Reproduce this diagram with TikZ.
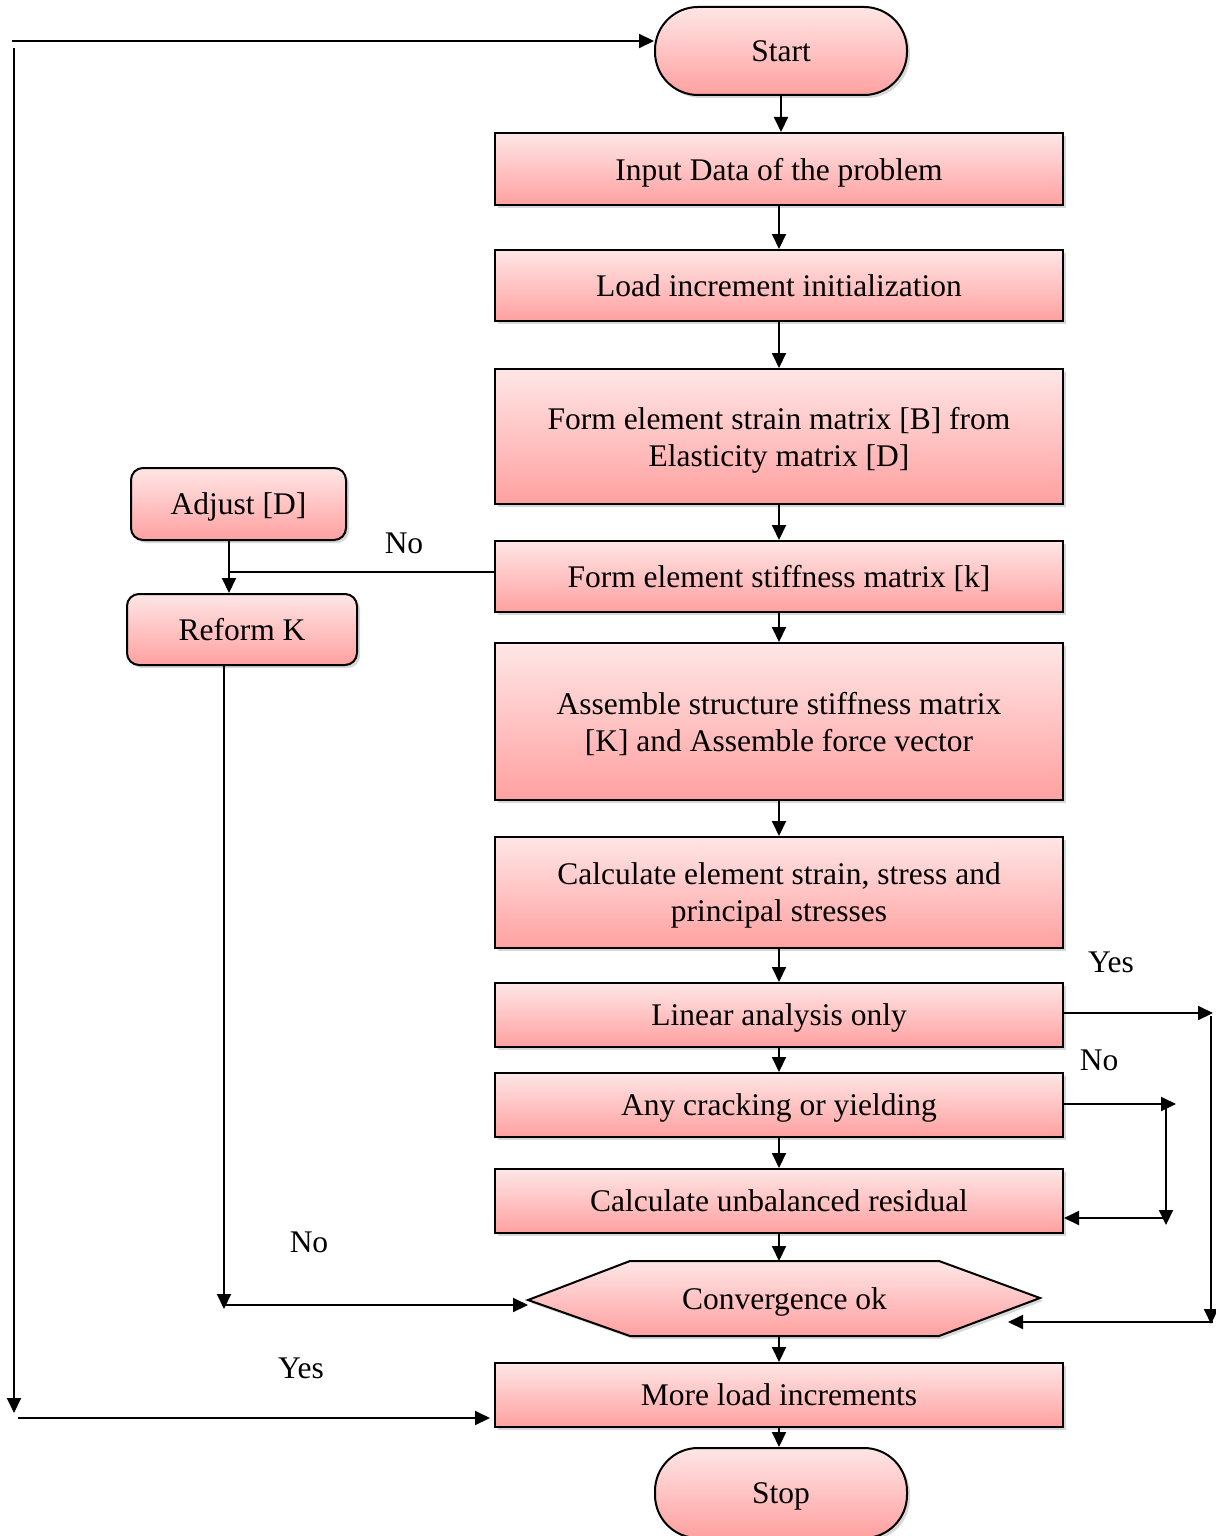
\documentclass[tikz,border=0pt]{standalone}
\usepackage{fontspec}
\setmainfont{Liberation Serif}
\usetikzlibrary{arrows.meta,shadows,calc}
\definecolor{topc}{RGB}{255,230,230}
\definecolor{botc}{RGB}{255,160,160}
\begin{document}
\begin{tikzpicture}[x=1pt,y=-1pt,line width=2pt,
  font=\fontsize{31.5}{37}\selectfont,
  shade/.style={top color=topc,bottom color=botc,
    drop shadow={opacity=0.3,shadow xshift=3pt,shadow yshift=-3pt}},
  box/.style={draw,line width=2pt,shade,minimum width=568pt,align=center,inner sep=0pt,text depth=0pt},
  rbox/.style={box,rounded corners=12pt},
  term/.style={box,rounded corners=43pt,minimum width=252pt,minimum height=88pt},
  arr/.style={-{Triangle[length=15pt,width=14pt]},line width=2pt},
  lbl/.style={inner sep=0pt}]
\path[fill=white,use as bounding box] (0,0) rectangle (1215,1536);

% main column
\node[term] (start) at (781,51) {Start};
\node[box,minimum height=72pt] (inp) at (779,169) {Input Data of the problem};
\node[box,minimum height=71pt] (load) at (779,285.5) {Load increment initialization};
\node[box,minimum height=135pt] (strain) at (779,436.5) {Form element strain matrix [B] from\\Elasticity matrix [D]};
\node[box,minimum height=71pt] (stiff) at (779,576.5) {Form element stiffness matrix [k]};
\node[box,minimum height=157pt] (asm) at (779,721.5) {Assemble structure stiffness matrix\\{}[K] and Assemble force vector};
\node[box,minimum height=111pt] (calc) at (779,892.5) {Calculate element strain, stress and\\principal stresses};
\node[box,minimum height=64pt] (lin) at (779,1015) {Linear analysis only};
\node[box,minimum height=64pt] (any) at (779,1105) {Any cracking or yielding};
\node[box,minimum height=64pt] (resid) at (779,1201) {Calculate unbalanced residual};
\node[minimum width=307pt,minimum height=73pt,inner sep=0pt] (conv) at (784.5,1298.5) {};
\coordinate (convL) at (528,1300);
\coordinate (convR) at (1040,1298);
\path[draw,line width=2pt,shade] (convL) -- (conv.north west) -- (conv.north east) -- (convR)
  -- (conv.south east) -- (conv.south west) -- cycle;
\node[text depth=0pt] at (conv.center) {Convergence ok};
\node[box,minimum height=64pt] (more) at (779,1395) {More load increments};
\node[term,minimum height=90pt] (stop) at (781,1493) {Stop};

% side boxes
\node[rbox,minimum width=215pt,minimum height=72pt] (adj) at (238.5,504) {Adjust [D]};
\node[rbox,minimum width=230pt,minimum height=71pt] (reform) at (242,629.5) {Reform K};

% main flow arrows
\draw[arr] (start.south) -- (start.south |- inp.north);
\draw[arr] (inp.south) -- (load.north);
\draw[arr] (load.south) -- (strain.north);
\draw[arr] (strain.south) -- (stiff.north);
\draw[arr] (stiff.south) -- (asm.north);
\draw[arr] (asm.south) -- (calc.north);
\draw[arr] (calc.south) -- (lin.north);
\draw[arr] (lin.south) -- (any.north);
\draw[arr] (any.south) -- (resid.north);
\draw[arr] (resid.south) -- (resid.south |- conv.north);
\draw[arr] (conv.south -| more.north) -- (more.north);
\draw[arr] (more.south) -- (more.south |- stop.north);

% left: stiffness -> reform
\coordinate (j1) at (229,572);
\draw (stiff.west |- j1) -- (j1);
\draw[arr] (adj.south -| j1) -- (reform.north -| j1);
\node[lbl] at (404,543) {No};

% reform -> convergence
\coordinate (j2) at (224,1309);
\coordinate (j3) at (222,1305);
\draw[arr] (reform.south -| j2) -- (j2);
\draw[arr] (j3) -- (convL |- j3);
\node[lbl] at (309,1242) {No};

% outer left loop
\coordinate (l1) at (12,41);
\coordinate (l2) at (14,48);
\coordinate (l3) at (14,1413);
\coordinate (l4) at (18,1418);
\draw[arr] (l1) -- (l1 -| start.west);
\draw[arr] (l2) -- (l3);
\draw[arr] (l4) -- ($(l4 -| more.west)+(-4,0)$);
\node[lbl] at (301,1368) {Yes};

% right: linear -> convergence
\coordinate (r1) at (1213,1013);
\coordinate (r2) at (1211,1016);
\coordinate (r3) at (1211,1324);
\coordinate (r4) at (1213,1322);
\coordinate (r5) at (1008,1322);
\draw[arr] (lin.east |- r1) -- (r1);
\draw[arr] (r2) -- (r3);
\draw[arr] (r4) -- (r5);
\node[lbl] at (1111,962) {Yes};

% right: cracking -> residual
\coordinate (a1) at (1176,1104);
\coordinate (a2) at (1166,1107);
\coordinate (a3) at (1166,1225);
\coordinate (a4) at (1166,1218);
\draw[arr] (any.east |- a1) -- (a1);
\draw[arr] (a2) -- (a3);
\draw[arr] (a4) -- (resid.east |- a4);
\node[lbl] at (1099,1060) {No};
\end{tikzpicture}
\end{document}
